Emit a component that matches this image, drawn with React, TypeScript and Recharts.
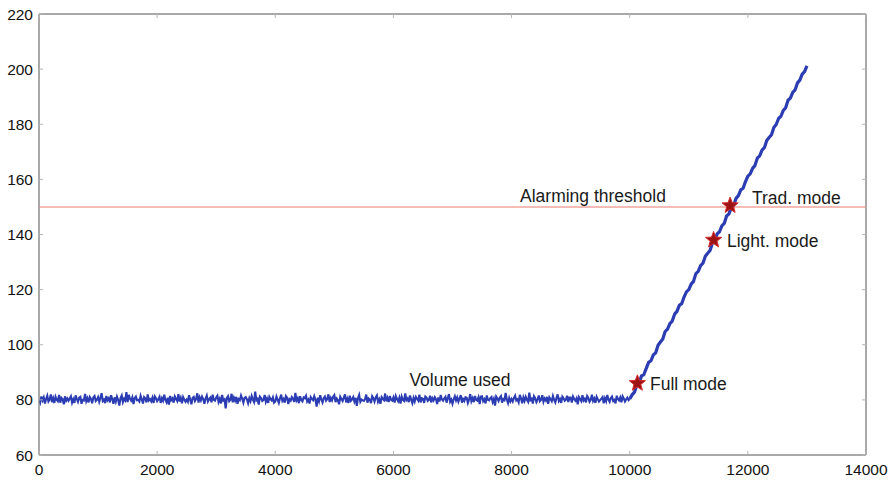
import React from 'react';
import { ComposedChart, Line, Scatter, XAxis, YAxis, ReferenceLine, ReferenceArea } from 'recharts';

const FLAT_STEP = 20;
const RISE_START = 10000;
const RISE_STEP = 40;

const volumeFlat: number[] = [
  80.4, 79.1, 81.2, 79.8, 80.9, 78.7, 80.3, 81.5, 79.4, 80.1, 82.0, 79.2, 80.6, 78.9, 81.1, 80.0, 79.5, 81.8, 79.0, 80.7, 80.2, 78.4, 81.3, 79.7, 80.5,
  79.7, 80.5, 81.3, 79.0, 80.2, 78.9, 81.6, 80.4, 79.3, 80.8, 81.1, 78.6, 80.0, 79.8, 82.2, 79.5, 80.6, 79.1, 81.0, 80.3, 78.8, 80.9, 81.4, 79.6, 80.1,
  81.0, 79.3, 80.8, 82.4, 79.6, 80.1, 78.8, 81.4, 79.9, 80.6, 79.1, 81.7, 80.3, 78.6, 80.9, 79.4, 81.2, 80.0, 77.9, 80.7, 81.6, 79.2, 80.4, 79.8, 82.8,
  79.2, 81.8, 80.4, 79.7, 80.9, 78.5, 80.6, 81.2, 79.9, 80.0, 79.4, 81.5, 80.2, 78.7, 81.0, 80.5, 79.1, 82.0, 79.8, 80.3, 79.5, 80.8, 78.9, 81.3, 80.6,
  79.5, 80.2, 81.1, 78.9, 80.6, 79.7, 81.9, 80.0, 79.1, 80.8, 78.3, 81.4, 79.9, 80.5, 79.0, 81.2, 80.3, 79.6, 82.1, 79.4, 80.7, 78.8, 81.0, 80.1, 79.3,
  80.1, 79.3, 81.7, 80.0, 78.4, 80.7, 81.1, 79.6, 80.4, 82.4, 79.0, 80.9, 79.8, 81.2, 80.3, 78.6, 80.5, 81.6, 79.4, 80.2, 80.8, 79.1, 81.9, 80.0, 79.7,
  80.9, 81.5, 79.2, 80.4, 78.7, 81.8, 79.8, 80.2, 76.9, 80.6, 81.3, 79.5, 80.0, 82.2, 79.1, 80.8, 79.7, 81.1, 78.6, 80.3, 79.9, 81.6, 80.5, 79.0, 80.7,
  81.0, 80.2, 78.8, 80.6, 79.5, 81.4, 80.1, 79.2, 83.0, 79.9, 80.4, 78.3, 81.2, 80.7, 79.6, 80.0, 81.8, 79.3, 80.5, 78.9, 81.1, 80.3, 79.8, 80.9, 79.0,
  79.4, 81.2, 80.1, 78.9, 80.6, 81.9, 79.6, 80.3, 79.0, 81.4, 80.8, 78.5, 80.2, 79.7, 81.0, 80.4, 79.3, 82.5, 79.8, 80.6, 78.8, 81.3, 80.0, 79.5, 80.9,
  80.6, 81.5, 79.4, 80.1, 78.7, 81.0, 80.4, 79.9, 81.3, 80.0, 77.6, 80.8, 79.5, 81.7, 80.2, 79.1, 80.6, 81.2, 79.7, 80.3, 82.0, 79.2, 80.7, 79.8, 81.1,
  81.7, 79.2, 80.5, 79.9, 78.4, 81.1, 80.3, 79.6, 80.8, 82.0, 79.1, 80.4, 78.9, 81.5, 79.7, 80.2, 81.0, 79.4, 80.7, 77.8, 80.6, 81.8, 79.3, 80.1, 79.8,
  79.6, 80.3, 81.9, 79.0, 80.5, 80.1, 78.8, 81.3, 80.6, 79.4, 80.9, 81.6, 79.3, 80.2, 78.6, 81.0, 80.4, 79.9, 82.3, 79.5, 80.7, 79.2, 81.4, 80.0, 79.7,
  80.9, 79.0, 81.4, 80.3, 79.5, 80.8, 78.7, 81.2, 80.0, 79.6, 82.3, 79.9, 80.5, 79.2, 81.6, 80.1, 78.8, 80.7, 79.4, 81.1, 80.4, 79.7, 81.9, 79.1, 80.6,
  80.4, 78.9, 81.2, 80.8, 79.6, 80.0, 81.5, 79.1, 80.6, 79.8, 81.0, 80.3, 78.5, 80.9, 79.4, 81.8, 80.2, 79.7, 80.5, 81.1, 79.0, 80.7, 82.1, 79.3, 80.1,
  78.6, 80.2, 81.3, 79.8, 80.9, 79.3, 80.5, 81.7, 79.0, 80.3, 79.6, 81.0, 80.8, 78.9, 80.1, 82.1, 79.5, 80.6, 79.2, 81.4, 80.0, 79.7, 80.9, 78.5, 81.2,
  81.3, 79.5, 80.2, 78.7, 81.6, 80.0, 79.8, 80.6, 81.0, 79.2, 80.4, 77.9, 81.2, 80.5, 79.6, 80.8, 81.4, 79.0, 80.3, 79.9, 82.5, 80.1, 78.8, 80.7, 79.4,
  80.3, 79.4, 80.7, 81.5, 79.8, 80.2, 79.1, 81.8, 80.5, 78.8, 80.9, 79.6, 81.1, 80.0, 79.3, 82.6, 79.9, 80.4, 78.7, 81.3, 80.6, 79.2, 80.1, 81.6, 79.5,
  80.0, 81.7, 79.3, 80.5, 79.8, 81.1, 78.6, 80.9, 80.2, 79.5, 81.4, 80.0, 79.1, 80.7, 82.0, 79.6, 80.3, 78.9, 81.2, 80.6, 79.7, 80.1, 81.5, 79.2, 80.8,
  80.8, 79.0, 81.2, 80.3, 79.7, 80.6, 78.4, 81.0, 80.2, 79.5, 81.7, 79.8, 80.4, 79.1, 81.4, 80.7, 79.3, 80.0, 81.9, 79.6, 80.5, 78.9, 81.1, 80.2, 79.4,
  79.9, 80.4, 81.0, 78.8, 80.6, 79.5, 81.8, 80.1, 79.3, 80.7, 81.2, 79.6, 80.0, 78.7, 81.5, 80.3, 79.8, 80.9, 79.1, 81.3, 80.5, 79.4, 80.2, 80.8, 79.9,
];

const volumeRise: number[] = [
  80.3, 81.8, 82.8, 85.3, 86.3, 88.7, 89.2, 91.4, 93.6, 94.2, 96.3, 97.1, 99.8, 101.0, 102.1, 104.8, 105.7, 107.7, 108.6, 111.1,
  112.1, 114.3, 114.9, 117.3, 119.2, 120.0, 122.0, 123.0, 125.8, 126.6, 128.7, 129.6, 132.1, 133.2, 134.2, 136.9, 138.0, 140.2, 141.0, 143.1,
  144.0, 146.7, 147.5, 149.7, 150.6, 153.1, 154.1, 156.2, 156.8, 159.2, 161.2, 162.0, 164.0, 165.0, 167.7, 168.5, 170.6, 171.5, 174.1, 175.2,
  176.2, 178.8, 179.9, 182.1, 182.9, 185.0, 186.0, 188.7, 189.5, 191.6, 192.5, 195.0, 196.0, 198.2, 199.1, 201.2,
];

const xTicks = [0, 2000, 4000, 6000, 8000, 10000, 12000, 14000];
const yTicks = [60, 80, 100, 120, 140, 160, 180, 200, 220];
const thresholdValue = 150;

const modeX = [10130, 11420, 11700];
const modeY = [86, 138, 150.5];

const labelTexts = ['Alarming threshold', 'Trad. mode', 'Light. mode', 'Full mode', 'Volume used'];
const labelX = [9378, 12070, 11647, 10343, 7127];
const labelY = [154, 153.2, 137.6, 85.8, 87.2];
const labelAnchor = ['middle', 'start', 'start', 'start', 'middle'];

const flatData = [...volumeFlat, volumeRise[0]].map((v, i) => ({ x: i * FLAT_STEP, v }));
const riseData = volumeRise.map((v, i) => ({ x: RISE_START + i * RISE_STEP, v }));
const modeData = modeX.map((x, i) => ({ x, y: modeY[i] }));
const labelData = labelTexts.map((t, i) => ({ x: labelX[i], y: labelY[i], text: t, anchor: labelAnchor[i] }));

const FONT = '"Liberation Sans", Arial, Helvetica, sans-serif';
const TICK_COLOR = '#b5b5b5';
const FRAME = '#8c8c8c';
const BLUE = '#2c3cb2';

const BottomTick = (props: any) => {
  const { x, y, payload } = props;
  const axisY = y - 9;
  return (
    <g>
      <line x1={x} x2={x} y1={axisY} y2={axisY - 4} stroke={TICK_COLOR} />
      <text x={x} y={y} dy="0.71em" textAnchor="middle" fontSize={15.5} fill="#111" fontFamily={FONT}>
        {payload.value}
      </text>
    </g>
  );
};

const LeftTick = (props: any) => {
  const { x, y, payload } = props;
  const axisX = x + 6;
  return (
    <g>
      <line x1={axisX} x2={axisX + 4} y1={y} y2={y} stroke={TICK_COLOR} />
      <text x={x} y={y} dy="0.355em" textAnchor="end" fontSize={15.5} fill="#111" fontFamily={FONT}>
        {payload.value}
      </text>
    </g>
  );
};

const TopTick = (props: any) => {
  const { x, y } = props;
  return <line x1={x} x2={x} y1={y} y2={y + 4} stroke={TICK_COLOR} />;
};

const RightTick = (props: any) => {
  const { x, y } = props;
  return <line x1={x} x2={x - 4} y1={y} y2={y} stroke={TICK_COLOR} />;
};

const StarShape = (props: any) => {
  const { cx, cy } = props;
  const outer = 8.5;
  const inner = 3.6;
  const pts: string[] = [];
  for (let k = 0; k < 10; k++) {
    const r = k % 2 === 0 ? outer : inner;
    const a = -Math.PI / 2 + (k * Math.PI) / 5;
    pts.push(`${cx + r * Math.cos(a)},${cy + r * Math.sin(a)}`);
  }
  return <polygon points={pts.join(' ')} fill="#9c1414" stroke="#d42a2a" strokeWidth={1} />;
};

const LabelShape = (props: any) => {
  const { cx, cy, payload } = props;
  return (
    <text x={cx} y={cy} dy="0.35em" textAnchor={payload.anchor} fontSize={17.5} fill="#1a1a1a" fontFamily={FONT}>
      {payload.text}
    </text>
  );
};

export default function App() {
  return (
    <div style={{ position: 'absolute', left: 0, top: 0, width: 895, height: 480, background: '#fff' }}>
      <ComposedChart width={895} height={480} margin={{ top: 13, right: 28, bottom: 0, left: 0 }}>
        <XAxis
          xAxisId={0}
          type="number"
          dataKey="x"
          domain={[0, 14000]}
          ticks={xTicks}
          interval={0}
          allowDataOverflow
          height={25}
          tickSize={0}
          tickMargin={9}
          tickLine={false}
          axisLine={{ stroke: FRAME }}
          tick={<BottomTick />}
        />
        <XAxis
          xAxisId="top"
          orientation="top"
          type="number"
          dataKey="x"
          domain={[0, 14000]}
          ticks={xTicks}
          interval={0}
          allowDataOverflow
          height={1}
          tickSize={0}
          tickMargin={0}
          tickLine={false}
          axisLine={{ stroke: FRAME }}
          tick={<TopTick />}
        />
        <YAxis
          yAxisId={0}
          type="number"
          domain={[60, 220]}
          ticks={yTicks}
          interval={0}
          allowDataOverflow
          width={39}
          tickSize={0}
          tickMargin={6}
          tickLine={false}
          axisLine={{ stroke: FRAME }}
          tick={<LeftTick />}
        />
        <YAxis
          yAxisId="right"
          orientation="right"
          type="number"
          domain={[60, 220]}
          ticks={yTicks}
          interval={0}
          allowDataOverflow
          width={1}
          tickSize={0}
          tickMargin={0}
          tickLine={false}
          axisLine={{ stroke: FRAME }}
          tick={<RightTick />}
        />
        <ReferenceArea x1={0} x2={14000} y1={60} y2={220} fill="none" fillOpacity={0} stroke={FRAME} strokeWidth={1} ifOverflow="visible" />
        <ReferenceLine y={thresholdValue} stroke="#f2a59c" strokeWidth={1.6} ifOverflow="hidden" />
        <Line
          data={flatData}
          dataKey="v"
          type="linear"
          stroke={BLUE}
          strokeWidth={2.1}
          dot={false}
          activeDot={false}
          isAnimationActive={false}
        />
        <Line
          data={riseData}
          dataKey="v"
          type="linear"
          stroke={BLUE}
          strokeWidth={3.2}
          strokeLinejoin="round"
          dot={false}
          activeDot={false}
          isAnimationActive={false}
        />
        <Scatter data={modeData} dataKey="y" shape={<StarShape />} isAnimationActive={false} />
        <Scatter data={labelData} dataKey="y" shape={<LabelShape />} isAnimationActive={false} />
      </ComposedChart>
    </div>
  );
}
